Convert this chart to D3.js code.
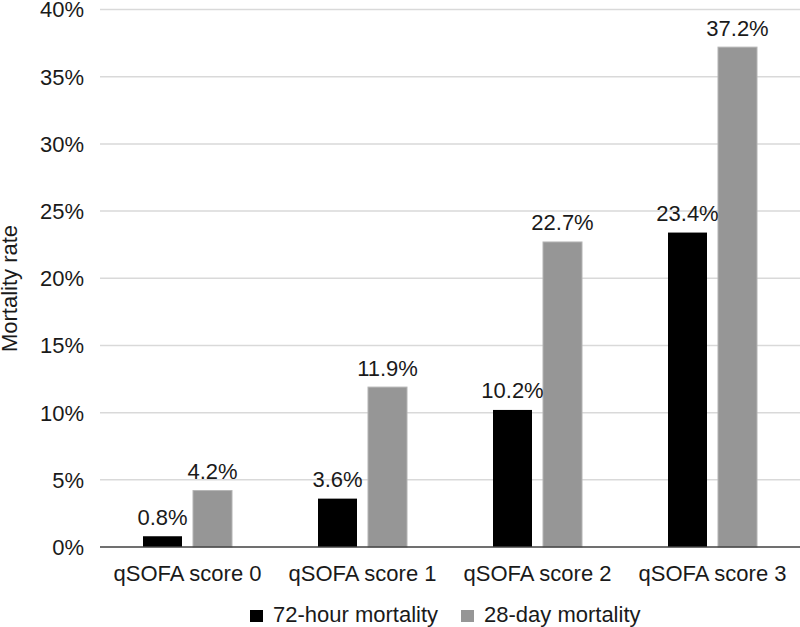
<!DOCTYPE html>
<html><head><meta charset="utf-8">
<script src="https://cdn.jsdelivr.net/npm/d3@7"></script>
<style>body{margin:0;background:#fff}svg{display:block;font-family:"Liberation Sans",Arial,sans-serif}</style>
</head><body>
<svg id="c" width="800" height="627"></svg>
<script>
const categories = ["qSOFA score 0","qSOFA score 1","qSOFA score 2","qSOFA score 3"];
const seriesNames = ["72-hour mortality","28-day mortality"];
const mortality72h = [0.8, 3.6, 10.2, 23.4];
const mortality28d = [4.2, 11.9, 22.7, 37.2];
const yTicks = [0,5,10,15,20,25,30,35,40];
const colors = ["#000000","#969696"];

const svg = d3.select("#c");
const W = 800;
const FS = 22;
const textCol = "#1a1a1a";
const x = d3.scaleBand().domain(categories).range([100, W]);
const y = d3.scaleLinear().domain([0,40]).range([547, 9.5]);
const xs = d3.scaleBand().domain(seriesNames).range([0, x.bandwidth()]).paddingInner(0.22).paddingOuter(0.86);

// gridlines
svg.append("g").selectAll("line").data(yTicks.filter(d=>d>0)).join("line")
  .attr("x1", 100).attr("x2", W).attr("y1", d=>y(d)).attr("y2", d=>y(d))
  .attr("stroke","#d9d9d9").attr("stroke-width",1.5);

// y tick labels
svg.append("g").selectAll("text").data(yTicks).join("text")
  .attr("x", 84).attr("y", d=>y(d)).attr("dy","0.36em")
  .attr("text-anchor","end").attr("font-size",FS).attr("fill",textCol)
  .text(d=>d+"%");

const data = categories.map((c,i)=>({cat:c, vals:[mortality72h[i], mortality28d[i]]}));
const groups = svg.append("g").selectAll("g").data(data).join("g")
  .attr("transform", d=>`translate(${x(d.cat)},0)`);
groups.selectAll("rect").data(d=>d.vals.map((v,j)=>({s:seriesNames[j], v, j}))).join("rect")
  .attr("x", d=>xs(d.s)).attr("width", xs.bandwidth())
  .attr("y", d=>y(d.v)).attr("height", d=>y(0)-y(d.v))
  .attr("fill", d=>colors[d.j])
  .attr("stroke", d=>d.j===1?"#b4b4b4":"none").attr("stroke-width",1);
groups.selectAll("text").data(d=>d.vals.map((v,j)=>({s:seriesNames[j], v, j}))).join("text")
  .attr("x", d=>xs(d.s)+xs.bandwidth()/2).attr("y", d=>y(d.v)-11.5)
  .attr("text-anchor","middle").attr("font-size",FS).attr("fill",textCol)
  .text(d=>d.v.toFixed(1)+"%");

// baseline
svg.append("line").attr("x1", 100).attr("x2", W).attr("y1", y(0)).attr("y2", y(0))
  .attr("stroke","#404040").attr("stroke-width",1.5);

// x axis labels
svg.append("g").selectAll("text").data(categories).join("text")
  .attr("x", d=>x(d)+x.bandwidth()/2).attr("y", 581)
  .attr("text-anchor","middle").attr("font-size",FS).attr("fill",textCol)
  .text(d=>d);

// y title
svg.append("text").attr("transform","translate(17,288.5) rotate(-90)")
  .attr("text-anchor","middle").attr("font-size",FS).attr("fill",textCol)
  .text("Mortality rate");

// legend
const legX = [250, 461];
const leg = svg.append("g").selectAll("g").data(seriesNames).join("g")
  .attr("transform",(d,i)=>`translate(${legX[i]},0)`);
leg.append("rect").attr("x",0).attr("y",610).attr("width",13).attr("height",12)
  .attr("fill",(d,i)=>colors[i]);
leg.append("text").attr("x",23).attr("y",621.5).attr("font-size",FS).attr("fill",textCol)
  .text(d=>d);
</script>
</body></html>
